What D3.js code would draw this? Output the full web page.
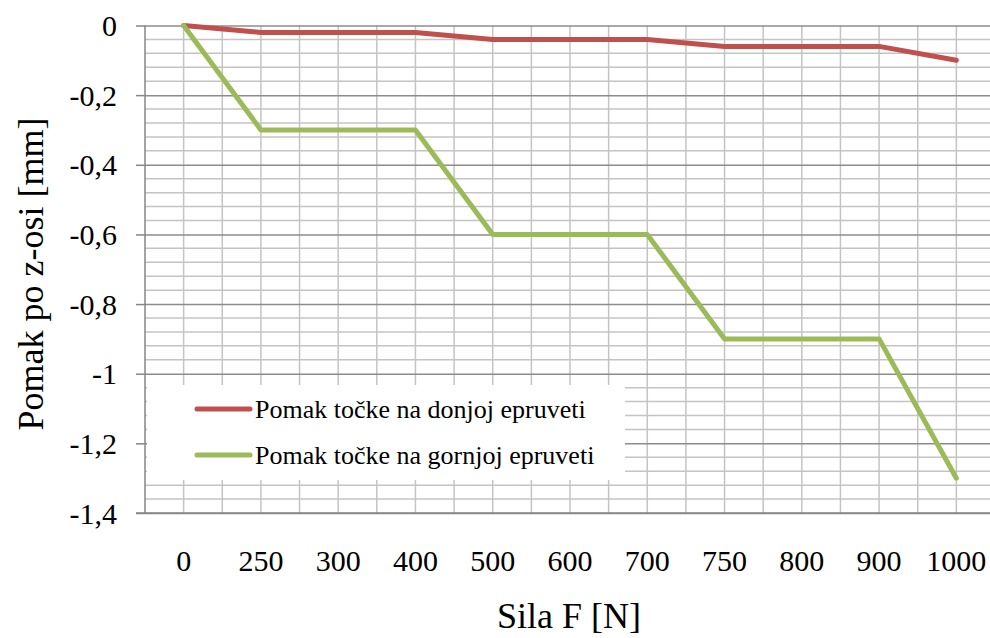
<!DOCTYPE html>
<html>
<head>
<meta charset="utf-8">
<script src="https://cdn.jsdelivr.net/npm/d3@7"></script>
</head>
<body style="margin:0; background:#fff">
<div id="chart"></div>
<script>
// Data
var sila = ["0", "250", "300", "400", "500", "600", "700", "750", "800", "900", "1000"];
var donja = [0, -0.02, -0.02, -0.02, -0.04, -0.04, -0.04, -0.06, -0.06, -0.06, -0.1];
var gornja = [0, -0.3, -0.3, -0.3, -0.6, -0.6, -0.6, -0.9, -0.9, -0.9, -1.3];
var yTicks = [0, -0.2, -0.4, -0.6, -0.8, -1, -1.2, -1.4];
var seriesNames = ["Pomak točke na donjoj epruveti", "Pomak točke na gornjoj epruveti"];
var colors = ["#c0504d", "#9bbb59"];

var FONT = "'Liberation Serif'";
var W = 990, H = 638;
var margin = { left: 145, top: 25.5, right: -5, bottom: 125 };
var width = W - margin.left - margin.right,
  height = H - margin.top - margin.bottom;

var svg = d3.select("#chart").append("svg")
  .attr("width", W).attr("height", H);

var g = svg.append("g")
  .attr("transform", "translate(" + margin.left + "," + margin.top + ")");

var x = d3.scaleBand().domain(sila).range([0, width]).padding(0);
var y = d3.scaleLinear().domain([-1.4, 0]).range([height, 0]);

// minor horizontal grid (every 0.04)
var minor = d3.range(0, 36).map(function (i) { return -i * 0.04; })
  .filter(function (v) { return Math.abs(Math.round(v * 100) % 20) !== 0; });
g.append("g").selectAll("line").data(minor).enter().append("line")
  .attr("x1", 0).attr("x2", width)
  .attr("y1", function (d) { return y(d); }).attr("y2", function (d) { return y(d); })
  .attr("stroke", "#c4c4c4").attr("stroke-width", 1.5);

// vertical grid at band edges and centres
var vx = [];
sila.forEach(function (s) {
  vx.push(x(s));
  vx.push(x(s) + x.bandwidth() / 2);
});
vx.push(width);
g.append("g").selectAll("line").data(vx.slice(1)).enter().append("line")
  .attr("x1", function (d) { return d; }).attr("x2", function (d) { return d; })
  .attr("y1", 0).attr("y2", height)
  .attr("stroke", "#c4c4c4").attr("stroke-width", 1.5);

// major horizontal grid + y axis
var yAxis = g.append("g").call(
  d3.axisLeft(y).tickValues(yTicks).tickSize(9).tickPadding(19)
    .tickFormat(function (d) { return String(d).replace(".", ","); })
);
yAxis.select(".domain").remove();
yAxis.selectAll(".tick line").attr("stroke", "#868686").attr("stroke-width", 1.5);
yAxis.selectAll(".tick").append("line")
  .attr("x1", 0).attr("x2", width)
  .attr("stroke", "#8c8c8c").attr("stroke-width", 1.5);
yAxis.selectAll(".tick text")
  .style("font-family", FONT).style("font-size", "30px")
  .attr("fill", "#000").attr("dy", "0.34em");

// axis lines
g.append("line").attr("x1", 0).attr("x2", 0).attr("y1", 0).attr("y2", height)
  .attr("stroke", "#868686").attr("stroke-width", 1.5);
g.append("line").attr("x1", -9).attr("x2", width).attr("y1", height).attr("y2", height)
  .attr("stroke", "#868686").attr("stroke-width", 1.5);

// x axis labels
var xAxis = g.append("g").attr("transform", "translate(0," + height + ")")
  .call(d3.axisBottom(x).tickSize(0));
xAxis.select(".domain").remove();
xAxis.selectAll(".tick text")
  .style("font-family", FONT).style("font-size", "30px")
  .attr("fill", "#000").attr("y", 58).attr("dy", 0);

// lines
var line = d3.line()
  .x(function (d, i) { return x(sila[i]) + x.bandwidth() / 2; })
  .y(function (d) { return y(d); });

[donja, gornja].forEach(function (s, i) {
  g.append("path").datum(s)
    .attr("d", line)
    .attr("fill", "none")
    .attr("stroke", colors[i])
    .attr("stroke-width", 5)
    .attr("stroke-linejoin", "round")
    .attr("stroke-linecap", "round");
});

// legend
var leg = svg.append("g");
leg.append("rect")
  .attr("x", 147).attr("y", 385).attr("width", 478).attr("height", 95)
  .attr("fill", "#fff");
seriesNames.forEach(function (n, i) {
  var ly = 409 + i * 46;
  leg.append("line").attr("x1", 197).attr("x2", 250).attr("y1", ly).attr("y2", ly)
    .attr("stroke", colors[i]).attr("stroke-width", 5).attr("stroke-linecap", "round");
  leg.append("text").attr("x", 255).attr("y", ly + 9)
    .style("font-family", FONT).style("font-size", "26px")
    .text(n);
});

// axis titles
svg.append("text")
  .attr("x", 569).attr("y", 628)
  .attr("text-anchor", "middle")
  .style("font-family", FONT).style("font-size", "36px")
  .text("Sila F [N]");

svg.append("text")
  .attr("transform", "translate(43,274) rotate(-90)")
  .attr("text-anchor", "middle")
  .style("font-family", FONT).style("font-size", "36px")
  .text("Pomak po z-osi [mm]");
</script>
</body>
</html>
